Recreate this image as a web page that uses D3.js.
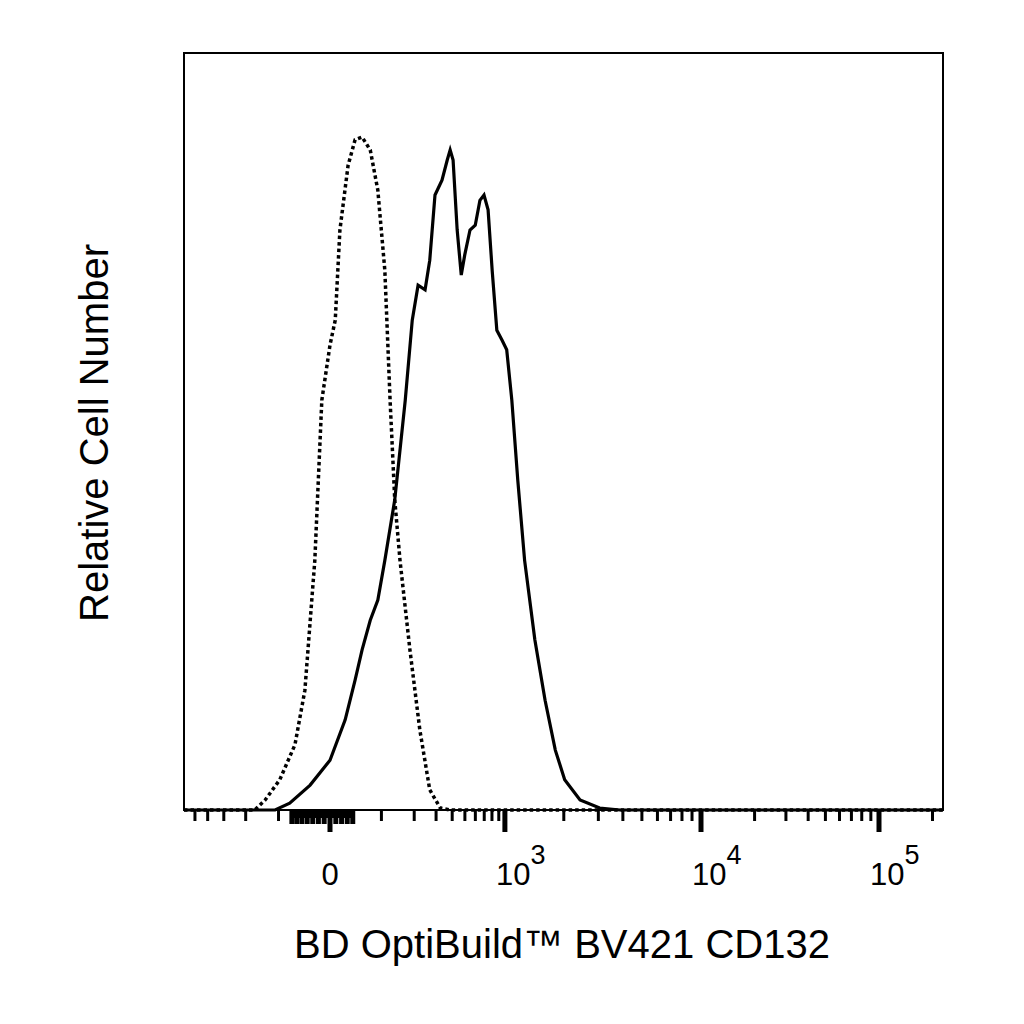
<!DOCTYPE html>
<html><head><meta charset="utf-8">
<script src="https://cdn.jsdelivr.net/npm/d3@7"></script>
<style>body{margin:0;background:#fff}svg{font-family:"Liberation Sans",Arial,sans-serif}</style>
</head><body><svg id="chart" width="1024" height="1024"></svg>
<script>
// x in arcsinh display units: asinh(intensity/100); y = relative count (isotype peak = 100)
const isoX = [-2.5,-1.29,-1.11,-0.86,-0.60,-0.43,-0.26,-0.14,0,0.09,0.17,0.31,0.43,0.55,0.69,0.82,0.94,1.03,1.11,1.20,1.37,1.54,1.71,1.89,2.06,8.43];
const isoY = [0,0,1.5,4.5,9.7,17.8,37.1,60.9,69.1,72.8,86.2,95.8,99.6,100,98.1,92.1,80.2,60.9,46.1,37.1,23.8,11.9,3.0,0.3,0,0];
const cdX = [-2.5,-0.94,-0.69,-0.34,0,0.26,0.43,0.55,0.69,0.82,0.94,1.11,1.29,1.41,1.51,1.63,1.71,1.80,1.92,2.01,2.06,2.11,2.18,2.25,2.31,2.40,2.49,2.57,2.64,2.71,2.78,2.86,2.95,3.02,3.08,3.15,3.23,3.35,3.47,3.59,3.70,3.88,4.11,4.35,8.43];
const cdY = [0,0,1.0,3.7,7.4,13.4,19.3,23.8,28.2,31.2,37.1,46.1,60.9,72.8,78.0,77.3,81.7,91.4,93.6,96.6,98.1,96.6,86.2,79.5,82.5,86.2,86.9,90.6,91.4,89.2,80.2,71.3,69.8,68.4,60.9,49.0,37.1,25.3,16.3,8.9,4.5,1.5,0.3,0,0];
const majorTicks = [0, 1000, 10000, 100000];
const majorLabels = ["0", "10|3", "10|4", "10|5"];
const nearZero = [-70,-60,-50,-40,-30,-20,-10,10,20,30,40];
const minorTicks = [-500,-400,-300,-200,-100,100,200,300,400,500,600,700,800,900,
  2000,3000,4000,5000,6000,7000,8000,9000,20000,30000,40000,50000,60000,70000,80000,90000,200000];
const xTitle = "BD OptiBuild™ BV421 CD132";
const yTitle = "Relative Cell Number";

const tf = v => Math.asinh(v / 100);
const svg = d3.select("#chart");
const L = 184, R = 943, T = 53, B = 810;
const x = d3.scaleLinear().domain([-2.5, 0, 3, tf(1e4), tf(1e5), 8.43]).range([L, 330, 505, 701, 879, R]);
const y = d3.scaleLinear().domain([0, 112.5]).range([B, T]);

const line = d3.line().x(d => x(d[0])).y(d => y(d[1]));
svg.append("path").datum(d3.zip(isoX, isoY)).attr("d", line)
  .attr("fill", "none").attr("stroke", "#000").attr("stroke-width", 3.5).attr("stroke-dasharray", "3.5,3");
svg.append("path").datum(d3.zip(cdX, cdY)).attr("d", line)
  .attr("fill", "none").attr("stroke", "#000").attr("stroke-width", 3.2);

svg.append("rect").attr("x", L).attr("y", T).attr("width", R - L).attr("height", B - T)
  .attr("fill", "none").attr("stroke", "#000").attr("stroke-width", 2);

const ax = svg.append("g");
ax.selectAll(".mi").data(minorTicks.filter(v => x(tf(v)) <= R)).enter().append("line")
  .attr("x1", d => x(tf(d))).attr("x2", d => x(tf(d))).attr("y1", B).attr("y2", B + 11)
  .attr("stroke", "#000").attr("stroke-width", 3);
ax.selectAll(".nz").data(nearZero).enter().append("line")
  .attr("x1", d => x(tf(d))).attr("x2", d => x(tf(d))).attr("y1", B).attr("y2", B + 14)
  .attr("stroke", "#000").attr("stroke-width", 5);
ax.append("line").attr("x1", x(tf(-70))).attr("x2", x(tf(40))).attr("y1", B + 4).attr("y2", B + 4)
  .attr("stroke", "#000").attr("stroke-width", 8);
ax.selectAll(".ma").data(majorTicks).enter().append("line")
  .attr("x1", d => x(tf(d))).attr("x2", d => x(tf(d))).attr("y1", B).attr("y2", B + 22)
  .attr("stroke", "#000").attr("stroke-width", 5);

majorTicks.forEach((v, i) => {
  const [base, exp] = majorLabels[i].split("|");
  const t = svg.append("text").attr("x", x(tf(v)) + (exp ? -9 : 0)).attr("y", 885)
    .attr("text-anchor", exp ? "start" : "middle").attr("font-size", 31).text(base);
  if (exp) t.append("tspan").attr("dy", -21).attr("font-size", 27).text(exp);
});

svg.append("text").attr("x", 562).attr("y", 958).attr("text-anchor", "middle")
  .attr("font-size", 40).text(xTitle);
svg.append("text").attr("transform", "translate(108,433) rotate(-90)").attr("text-anchor", "middle")
  .attr("font-size", 40).text(yTitle);
</script></body></html>
